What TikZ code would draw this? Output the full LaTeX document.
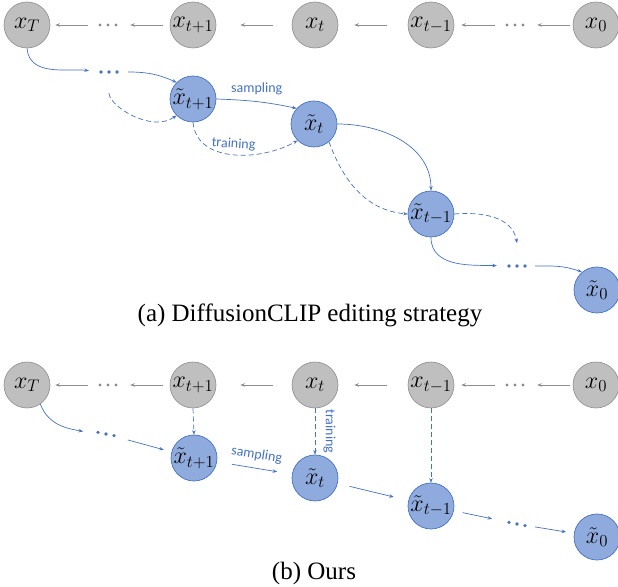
\RequirePackage{fix-cm}
\documentclass[tikz,border=0pt]{standalone}
\usepackage[no-math]{fontspec}
\setmainfont{Liberation Serif}
\newfontfamily\capserif{Liberation Serif}
\newfontfamily\carlito{Carlito}
\usetikzlibrary{arrows.meta}
\definecolor{gfill}{HTML}{BFBFBF}
\definecolor{gline}{HTML}{8C8C8C}
\definecolor{garrow}{HTML}{8F8F8F}
\definecolor{bfill}{HTML}{8FAADC}
\definecolor{bline}{HTML}{4472C4}
\tikzset{
  gnode/.style={circle, draw=gline, fill=gfill, minimum size=46pt, inner sep=0pt, line width=0.6pt, font=\fontsize{24}{24}\selectfont},
  bnode/.style={circle, draw=bline, fill=bfill, minimum size=46pt, inner sep=0pt, line width=0.7pt, font=\fontsize{24}{24}\selectfont},
  dotnode/.style={minimum width=22pt, minimum height=6pt, inner sep=0pt},
  garr/.style={draw=garrow, line width=0.9pt, -{Stealth[length=4.5pt,width=3.5pt]}},
  barr/.style={draw=bline, line width=0.7pt, -{Stealth[length=4.5pt,width=3.5pt]}},
  bdash/.style={barr, dash pattern=on 5pt off 3pt},
  lbl/.style={font=\carlito\fontsize{14}{14}\selectfont, text=bline, inner sep=0pt},
  captext/.style={font=\capserif\fontsize{25}{25}\selectfont, anchor=base, inner sep=0pt},
}
\begin{document}
\begin{tikzpicture}[x=1pt,y=1pt]
\useasboundingbox (0,0) rectangle (618,586);

% ================= (a) =================
\node[gnode] (aT)  at (27,561)  {$x_T$};
\node[dotnode] (ad1) at (108,561) {};
\node[gnode] (at1) at (193,561) {$x_{t+1}$};
\node[gnode] (at)  at (315,561) {$x_t$};
\node[gnode] (atm) at (431,561) {$x_{t-1}$};
\node[dotnode] (ad2) at (515,561) {};
\node[gnode] (a0)  at (596,561) {$x_0$};
\foreach \n in {ad1,ad2}{
  \fill[gline] (\n) ++(-8,0) circle (1.6) (\n) circle (1.6) (\n) ++(8,0) circle (1.6);
}
\draw[garr, shorten <=7pt, shorten >=11pt] (at1) -- (ad1);
\draw[garr, shorten <=9pt, shorten >=5pt] (ad1) -- (aT);
\draw[garr, shorten <=19pt, shorten >=24pt] (at) -- (at1);
\draw[garr, shorten <=21pt, shorten >=16pt] (atm) -- (at);
\draw[garr, shorten <=9pt, shorten >=7pt] (ad2) -- (atm);
\draw[garr, shorten <=3pt, shorten >=11pt] (a0) -- (ad2);

\node[bnode] (ab1) at (193,487) {$\tilde{x}_{t+1}$};
\node[bnode] (abt) at (314,462) {$\tilde{x}_t$};
\node[bnode] (abm) at (431,372) {$\tilde{x}_{t-1}$};
\node[bnode] (ab0) at (597,296) {$\tilde{x}_0$};
\node[dotnode] (abd1) at (109,514) {};
\node[dotnode] (abd2) at (517,320) {};
\foreach \n in {abd1,abd2}{
  \fill[bline] (\n) ++(-8,0) circle (1.8) (\n) circle (1.8) (\n) ++(8,0) circle (1.8);
}
\coordinate (afree) at (517,343);

\draw[barr, shorten >=9pt] (aT.south) to[out=-85,in=172] (abd1.west);
\draw[barr, shorten <=8pt] (abd1.east) to[out=0,in=155] (ab1.135);
\draw[bdash, shorten <=18pt] (abd1.south) to[out=-90,in=-145] (ab1.225);
\draw[barr] (ab1.east) to[out=-2,in=168] node[lbl, above=6pt, pos=0.5] (lsa) {sampling} (abt.138);
\draw[bdash] (ab1.south) to[out=-85,in=-150] node[lbl, above=4pt, pos=0.5, rotate=-4] (lta) {training} (abt.225);
\draw[barr] (abt.east) to[out=0,in=90] (abm.north);
\draw[bdash] (abt.-50) to[out=-70,in=175] (abm.west);
\draw[bdash] (abm.east) to[out=5,in=100] (afree);
\draw[barr, shorten >=9pt] (abm.south) to[out=-90,in=178] (abd2.west);
\draw[barr, shorten <=7pt] (abd2.east) to[out=0,in=160] (ab0.130);

\node[captext] (capa) at (310,264) {(a) DiffusionCLIP editing strategy};

% ================= (b) =================
\node[gnode] (bT)  at (27,201)  {$x_T$};
\node[dotnode] (bd1) at (108,201) {};
\node[gnode] (bt1) at (193,201) {$x_{t+1}$};
\node[gnode] (bt)  at (315,201) {$x_t$};
\node[gnode] (btm) at (431,201) {$x_{t-1}$};
\node[dotnode] (bd2) at (515,201) {};
\node[gnode] (b0)  at (596,201) {$x_0$};
\foreach \n in {bd1,bd2}{
  \fill[gline] (\n) ++(-8,0) circle (1.6) (\n) circle (1.6) (\n) ++(8,0) circle (1.6);
}
\draw[garr, shorten <=7pt, shorten >=11pt] (bt1) -- (bd1);
\draw[garr, shorten <=9pt, shorten >=5pt] (bd1) -- (bT);
\draw[garr, shorten <=19pt, shorten >=24pt] (bt) -- (bt1);
\draw[garr, shorten <=21pt, shorten >=16pt] (btm) -- (bt);
\draw[garr, shorten <=9pt, shorten >=7pt] (bd2) -- (btm);
\draw[garr, shorten <=3pt, shorten >=11pt] (b0) -- (bd2);

\node[bnode] (bb1) at (194,128) {$\tilde{x}_{t+1}$};
\node[bnode] (bbt) at (315,108) {$\tilde{x}_t$};
\node[bnode] (bbm) at (431,80)  {$\tilde{x}_{t-1}$};
\node[bnode] (bb0) at (597,49)  {$\tilde{x}_0$};
\node[dotnode] (bbd1) at (106,152) {};
\node[dotnode] (bbd2) at (517,62) {};
\foreach \n in {bbd1,bbd2}{
  \fill[bline] (\n) ++(-8,1.6) circle (1.8) (\n) circle (1.8) (\n) ++(8,-1.6) circle (1.8);
}

\draw[barr, shorten >=12pt] (bT.-55) to[out=-70,in=168] (bbd1.west);
\draw[barr, shorten <=11pt, shorten >=8pt] (bbd1) -- (bb1);
\draw[bdash] (bt1.south) -- (bb1.north);
\draw[barr, shorten <=15pt, shorten >=15pt] (bb1) -- node[lbl, above=7pt, sloped] (lsb) {sampling} (bbt);
\draw[bdash] (bt.south) -- node[lbl, right=8pt, rotate=-90, anchor=south] (ltb) {training} (bbt.north);
\draw[barr, shorten <=12pt, shorten >=15pt] (bbt) -- (bbm);
\draw[bdash] (btm.south) -- (bbm.north);
\draw[barr, shorten <=9pt, shorten >=14pt] (bbm) -- (bbd2);
\draw[barr, shorten <=7pt, shorten >=8pt] (bbd2) -- (bb0);

\node[captext] (capb) at (314,6) {(b) Ours};
\end{tikzpicture}
\end{document}
